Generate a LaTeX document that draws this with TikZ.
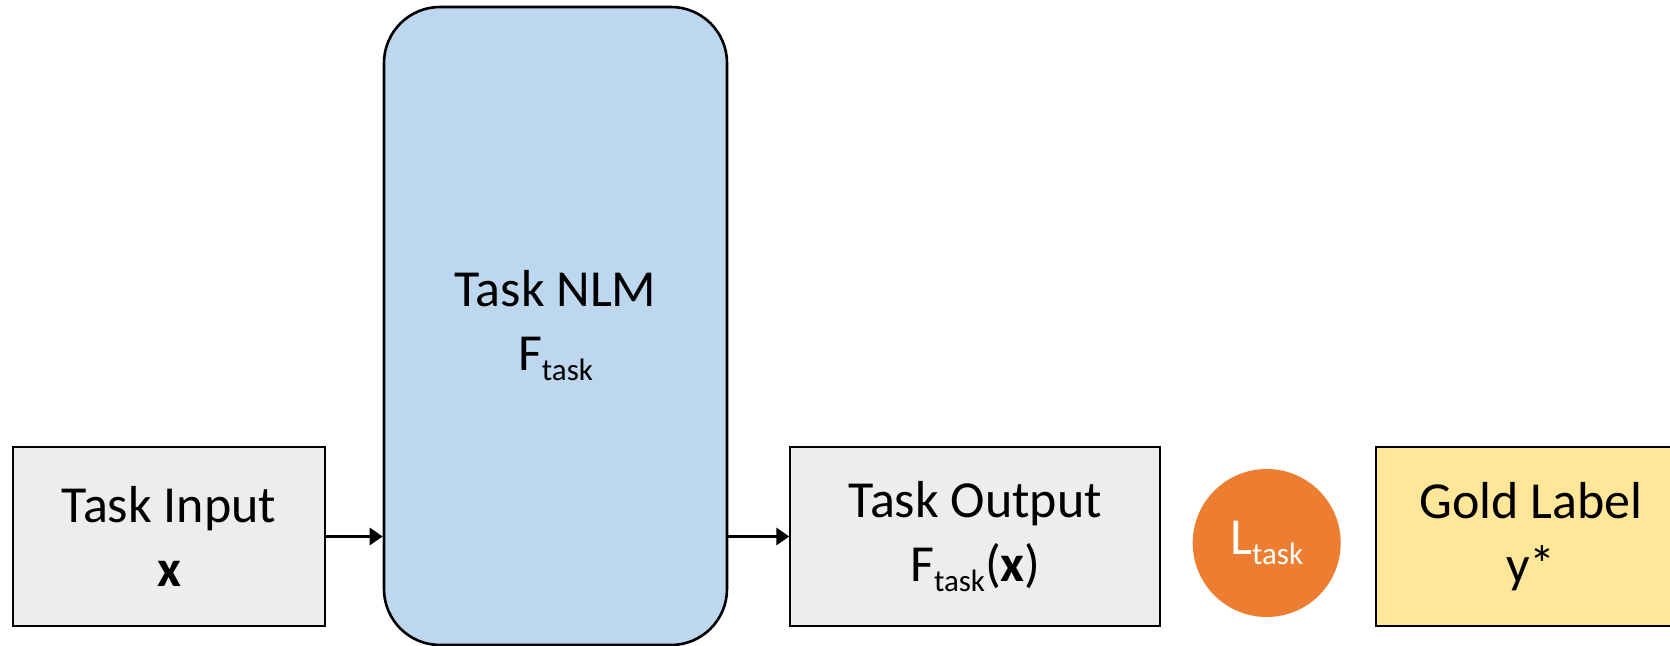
\documentclass[tikz,border=0pt]{standalone}
\usepackage{fontspec}
\setmainfont{Carlito}
\usepackage{xcolor}
\usepackage{tikz}
\usetikzlibrary{arrows.meta,positioning,shapes.geometric}
\definecolor{cinzaClaro}{HTML}{EDEDED}
\definecolor{azulClaro}{HTML}{BDD7EE}
\definecolor{laranja}{HTML}{ED7D31}
\definecolor{ouro}{HTML}{FFE699}
\newcommand{\subtask}[1]{\raisebox{-5pt}{\fontsize{15.5}{16}\selectfont #1}}
\tikzset{
    caixa/.style={
        rectangle,
        draw,
        line width=1pt,
        align=center,
        minimum height=89.5pt,
        inner sep=0pt
    },
    entrada/.style={caixa, fill=cinzaClaro},
    modelo/.style={
        caixa,
        fill=azulClaro,
        rounded corners=28pt,
        line width=1.3pt,
        minimum width=171.5pt,
        minimum height=319pt
    },
    perda/.style={
        circle,
        fill=laranja,
        text=white,
        minimum size=74pt,
        inner sep=0pt
    },
    rotulo/.style={caixa, fill=ouro},
    fluxo/.style={-{Triangle[length=6.5pt,width=8.5pt]}, line width=1.5pt}
}

\begin{document}
\begin{tikzpicture}[font=\fontsize{26}{32}\selectfont]
    \useasboundingbox (0,0) rectangle (835pt,-323pt);
    \node[entrada, minimum width=156pt] (input) at (84.5pt,-268.25pt)
        {Task Input\\\textbf{x}};
    \node[modelo] (nlm) at (277.75pt,-163pt)
        {Task NLM\\F\subtask{task}};
    \coordinate (saida) at (nlm.east |- input);
    \node[entrada, right=30.5pt of saida, minimum width=185pt] (output)
        {Task Output\\F\subtask{task}(\textbf{x})};
    \node[perda, right=15.5pt of output, yshift=-3.25pt] (ltask)
        {L\subtask{task}};
    \node[rotulo, right=17pt of ltask, yshift=3.25pt, minimum width=155pt] (gold)
        {Gold Label\\y*};
    \draw[fluxo] (input.east) -- (input.east -| nlm.west);
    \draw[fluxo] (saida) -- (output.west);
\end{tikzpicture}
\end{document}
